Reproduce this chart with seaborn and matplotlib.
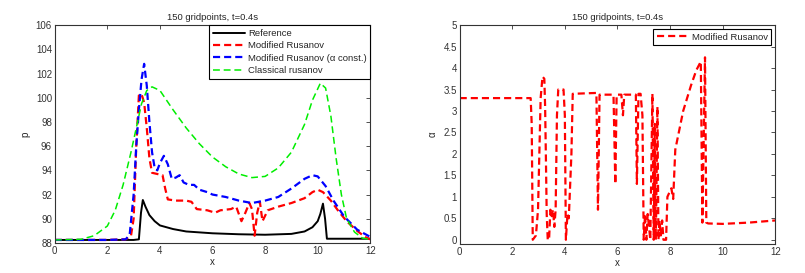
import numpy as np
import matplotlib
matplotlib.use("Agg")
import matplotlib.pyplot as plt
import seaborn as sns

# Reference solution
ref_x = [0, 1, 2, 3.0, 3.2, 3.28, 3.35, 3.45, 3.6, 3.8, 4.0, 4.5, 5.0, 6.0, 7.0, 8.0, 9.0,
         9.5, 9.8, 10.0, 10.1, 10.2, 10.28, 10.35, 11, 12]
ref_p = [88.25, 88.25, 88.25, 88.25, 88.3, 90.5, 91.55, 91.0, 90.3, 89.8, 89.45, 89.15, 88.95,
         88.8, 88.72, 88.68, 88.75, 88.95, 89.3, 89.8, 90.4, 91.25, 90.0, 88.35, 88.35, 88.35]

# Modified Rusanov
mr_x = [0, 1, 2, 2.7, 2.9, 3.0, 3.1, 3.2, 3.3, 3.4, 3.5, 3.6, 3.7, 3.9, 4.1, 4.2, 4.3, 4.6,
        5.0, 5.2, 5.4, 5.8, 6.1, 6.3, 6.7, 6.9, 7.1, 7.25, 7.4, 7.5, 7.6, 7.7, 7.8, 7.9, 8.1,
        8.5, 9.0, 9.5, 9.8, 10.0, 10.2, 10.5, 10.8, 11.1, 11.5, 11.8, 12]
mr_p = [88.25, 88.25, 88.25, 88.3, 88.6, 90.0, 96.0, 100.2, 100.3, 99.6, 97.5, 95.0, 93.8,
        93.7, 93.6, 92.5, 91.6, 91.5, 91.5, 91.4, 90.8, 90.7, 90.5, 90.7, 90.8, 91.0, 89.8,
        90.5, 91.3, 90.8, 88.6, 90.5, 91.4, 89.8, 90.7, 91.0, 91.3, 91.7, 92.2, 92.4, 92.2,
        91.5, 90.6, 89.8, 89.0, 88.5, 88.3]

# Modified Rusanov (alpha const.)
mc_x = [0, 1, 2, 2.7, 2.85, 3.0, 3.1, 3.2, 3.3, 3.4, 3.5, 3.6, 3.7, 3.8, 3.9, 4.0, 4.15,
        4.3, 4.45, 4.6, 4.75, 4.9, 5.1, 5.3, 5.5, 5.8, 6.0, 6.5, 7.0, 7.5, 8.0, 8.5, 9.0,
        9.5, 9.8, 10.0, 10.3, 10.6, 11.0, 11.5, 12]
mc_p = [88.25, 88.25, 88.25, 88.3, 88.7, 92.0, 96.0, 99.0, 101.5, 102.8, 101.0, 98.0, 95.5,
        94.2, 94.0, 94.6, 95.2, 94.5, 93.3, 93.4, 93.6, 93.0, 92.8, 92.8, 92.4, 92.2, 92.0,
        91.8, 91.5, 91.3, 91.5, 91.8, 92.5, 93.3, 93.6, 93.5, 92.7, 91.5, 90.2, 89.1, 88.5]

# Classical rusanov
cr_x = [0, 1.0, 1.5, 2.0, 2.3, 2.6, 2.9, 3.1, 3.3, 3.5, 3.7, 4.0, 4.5, 5.0, 5.5, 6.0, 6.5,
        7.0, 7.5, 8.0, 8.5, 9.0, 9.5, 9.8, 10.1, 10.3, 10.5, 10.7, 10.9, 11.1, 11.4, 11.7, 12]
cr_p = [88.25, 88.3, 88.6, 89.4, 90.7, 92.8, 95.5, 97.5, 99.5, 100.6, 100.9, 100.6, 99.0,
        97.5, 96.2, 95.1, 94.3, 93.7, 93.4, 93.5, 94.2, 95.5, 97.8, 99.8, 101.2, 100.8, 98.5,
        95.0, 92.0, 90.0, 88.9, 88.4, 88.3]

# alpha of modified Rusanov
al_x = [0, 1, 2, 2.7, 2.74, 2.78, 2.9, 2.98, 3.08, 3.15, 3.22, 3.25, 3.28, 3.31, 3.35,
        3.4, 3.45, 3.5, 3.55, 3.6, 3.65, 3.7, 3.75, 3.95, 4.0, 4.04, 4.1, 4.15, 4.25, 4.3,
        5.2, 5.26, 5.32, 5.85, 5.92, 5.97, 6.15, 6.21, 6.26, 6.7, 6.74, 6.8, 6.88, 6.95,
        7.0, 7.05, 7.1, 7.15, 7.2, 7.25, 7.33, 7.38, 7.42, 7.46, 7.52, 7.56, 7.6, 7.65,
        7.7, 7.75, 7.85, 7.9, 8.05, 8.12, 8.2, 8.3, 8.5, 8.8, 9.0, 9.17, 9.23, 9.33, 9.38,
        9.45, 10.0, 11.0, 12.0]
al_a = [3.3, 3.3, 3.3, 3.3, 2.7, 0.0, 0.1, 0.7, 3.3, 3.8, 3.75, 3.1, 1.9, 0.6, 0.0,
        0.0, 0.7, 0.55, 0.7, 0.3, 0.7, 2.9, 3.5, 3.5, 2.9, 0.0, 0.6, 0.5, 2.0, 3.4,
        3.42, 0.7, 3.38, 3.38, 1.3, 3.38, 3.38, 2.9, 3.38, 3.38, 1.3, 3.4, 3.4, 2.9,
        0.0, 0.6, 0.0, 0.6, 0.3, 0.0, 3.4, 0.0, 2.7, 0.0, 3.1, 0.0, 0.45, 0.1,
        0.45, 0.0, 0.0, 1.0, 1.2, 0.95, 2.1, 2.4, 3.0, 3.6, 3.95, 4.15, 0.4, 4.25, 0.4,
        0.38, 0.37, 0.4, 0.45]

sns.set_style("white")
plt.rcParams['font.family'] = ['Liberation Sans', 'DejaVu Sans']
plt.rcParams['font.size'] = 7

fig = plt.figure(figsize=(8.05, 2.73), dpi=100)
ax1 = fig.add_axes([0.068, 0.11, 0.392, 0.798])
ax2 = fig.add_axes([0.571, 0.106, 0.392, 0.802])

dash = (3.2, 1.8)
sns.lineplot(x=ref_x, y=ref_p, ax=ax1, color='black', lw=1.4, label='Reference',
             sort=False, estimator=None)
sns.lineplot(x=mr_x, y=mr_p, ax=ax1, color='red', lw=1.6, dashes=dash,
             label='Modified Rusanov', sort=False, estimator=None)
sns.lineplot(x=mc_x, y=mc_p, ax=ax1, color='blue', lw=1.6, dashes=dash,
             label='Modified Rusanov (\u03b1 const.)', sort=False, estimator=None)
sns.lineplot(x=cr_x, y=cr_p, ax=ax1, color='#00ee00', lw=1.1, dashes=(4.5, 2.5),
             label='Classical rusanov', sort=False, estimator=None)
ax1.set_xlim(0, 12)
ax1.set_ylim(88, 106)
ax1.set_xticks(np.arange(0, 13, 2))
ax1.set_yticks(np.arange(88, 107, 2))
ax1.set_xlabel('x', labelpad=1)
ax1.set_ylabel('p', labelpad=4)
ax1.set_title('150 gridpoints, t=0.4s', fontsize=6.8, pad=4)
leg1 = ax1.legend(loc='upper right', bbox_to_anchor=(1.0, 1.0), borderaxespad=0,
                  fancybox=False, framealpha=1, edgecolor='black', handlelength=3.4,
                  labelspacing=0.35, borderpad=0.4, handletextpad=0.3, fontsize=6.8)
leg1.get_frame().set_linewidth(0.8)

sns.lineplot(x=al_x, y=al_a, ax=ax2, color='red', lw=1.6, dashes=dash,
             label='Modified Rusanov', sort=False, estimator=None)
ax2.set_xlim(0, 12)
ax2.set_ylim(-0.1, 5)
ax2.set_xticks(np.arange(0, 13, 2))
ax2.set_yticks(np.arange(0, 5.01, 0.5))
ax2.set_yticklabels(['0', '0.5', '1', '1.5', '2', '2.5', '3', '3.5', '4', '4.5', '5'])
ax2.set_xlabel('x', labelpad=1)
ax2.set_ylabel('\u03b1', labelpad=4)
ax2.set_title('150 gridpoints, t=0.4s', fontsize=6.8, pad=4)
leg2 = ax2.legend(loc='upper right', borderaxespad=0.4, fancybox=False, framealpha=1,
                  edgecolor='black', handlelength=3.4, borderpad=0.4, handletextpad=0.3,
                  fontsize=6.8)
leg2.get_frame().set_linewidth(0.8)

for ax in (ax1, ax2):
    ax.tick_params(direction='in', length=3, width=0.6, top=True, right=True,
                   labelsize=7, pad=2, colors='#333333')
    for s in ax.spines.values():
        s.set_linewidth(0.8)
        s.set_color('#333333')

fig.savefig('out.png', dpi=100)
